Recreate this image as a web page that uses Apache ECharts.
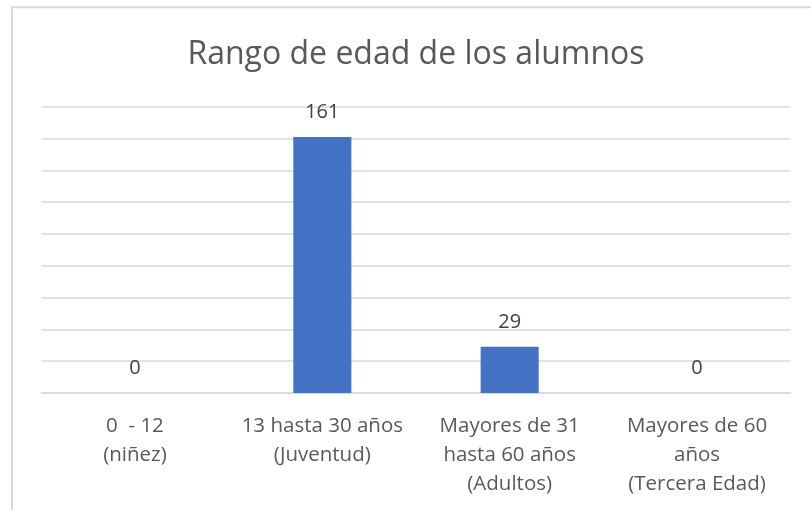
<!DOCTYPE html>
<html>
<head>
<meta charset="utf-8">
<script src="https://cdn.jsdelivr.net/npm/echarts@6/dist/echarts.min.js"></script>
<style>html,body{margin:0;padding:0;background:#fff}#c{width:811px;height:510px}</style>
</head>
<body>
<div id="c"></div>
<script>
const titleText = 'Rango de edad de los alumnos';
const categories = ['0  - 12\n(niñez)', '13 hasta 30 años\n(Juventud)', 'Mayores de 31\nhasta 60 años\n(Adultos)', 'Mayores de 60\naños\n(Tercera Edad)'];
const values = [0, 161, 29, 0];
const yMin = 0, yMax = 180, yInterval = 20;

const FONT = '"Open Sans", sans-serif';
const TXT = '#595959';
const chart = echarts.init(document.getElementById('c'), null, {renderer: 'canvas'});
chart.setOption({
  animation: false,
  backgroundColor: '#ffffff',
  graphic: [
    {type: 'rect', shape: {x: 12, y: 7.3, width: 900, height: 600}, style: {fill: 'none', stroke: '#d9d9d9', lineWidth: 2}, silent: true},
    {type: 'text', x: 416, y: 55, style: {text: titleText, font: '32px ' + FONT, fill: TXT, align: 'center', verticalAlign: 'middle'}}
  ],
  grid: {left: 41.3, right: 20.3, top: 106.7, bottom: 117, containLabel: false},
  xAxis: {
    type: 'category',
    data: categories,
    axisLine: {show: true, lineStyle: {color: '#d9d9d9', width: 1.5}},
    axisTick: {show: false},
    axisLabel: {color: TXT, fontFamily: FONT, fontSize: 20.5, lineHeight: 29, margin: 18.5, interval: 0, align: 'center'}
  },
  yAxis: {
    type: 'value', min: yMin, max: yMax, interval: yInterval,
    axisLabel: {show: false}, axisLine: {show: false}, axisTick: {show: false},
    splitLine: {lineStyle: {color: '#d9d9d9', width: 1.5}}
  },
  series: [{
    type: 'bar',
    data: values,
    barWidth: '31%',
    itemStyle: {color: '#4472C4'},
    label: {show: true, position: 'top', distance: 15, color: '#404040', fontFamily: FONT, fontSize: 20}
  }]
});
</script>
</body>
</html>
